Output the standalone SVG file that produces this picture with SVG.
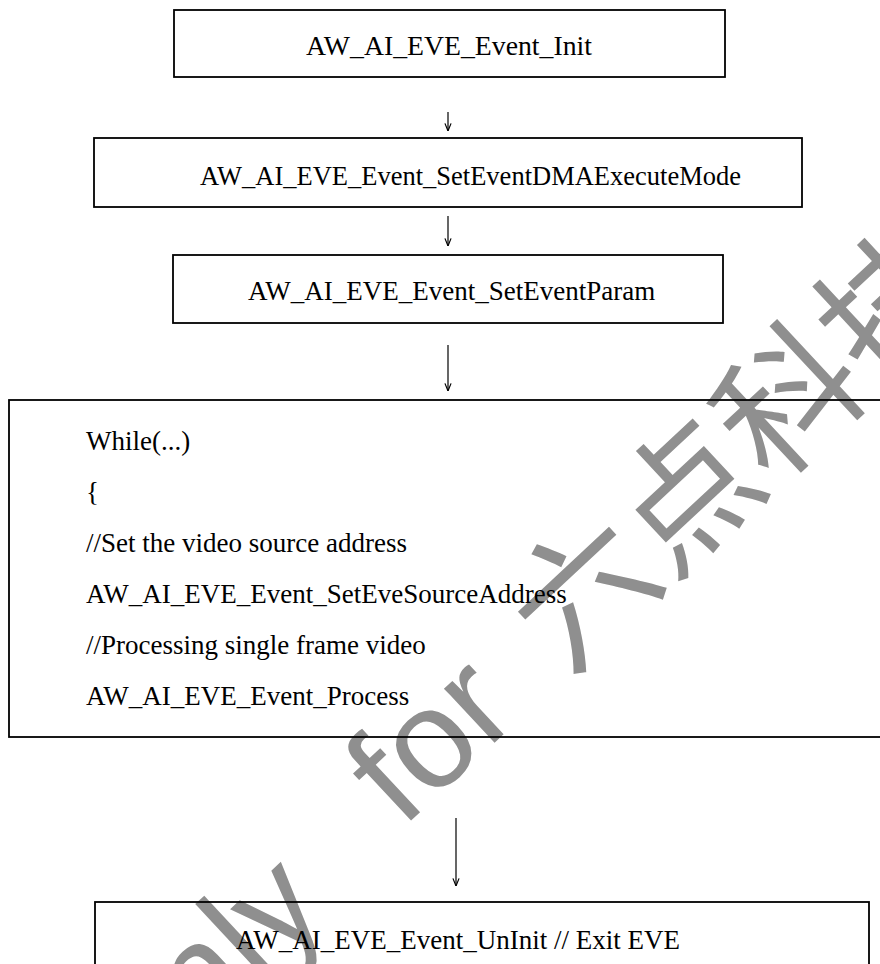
<svg xmlns="http://www.w3.org/2000/svg" width="880" height="964" viewBox="0 0 880 964">
<style>
.box{fill:none;stroke:#000;stroke-width:1.8}
.t{font-family:"Liberation Serif","Times New Roman",serif;font-size:27px;fill:#000}
.wm{font-family:"Liberation Sans",Arial,sans-serif;font-size:140px;fill:#8f8f8f}
.cjk{font-family:"Noto Sans CJK SC","Liberation Sans",sans-serif;font-size:140px;fill:#8f8f8f}
.arr{stroke:#000;stroke-width:1.2;fill:none;marker-end:url(#ah)}
</style>
<defs>
<marker id="ah" viewBox="0 0 10 10" refX="9.5" refY="5" markerWidth="9" markerHeight="9" markerUnits="userSpaceOnUse" orient="auto">
<path d="M1,1.6 L9.5,5 L1,8.4" fill="none" stroke="#000" stroke-width="1.3"/>
</marker>
</defs>
<rect width="880" height="964" fill="#fff"/>
<g id="watermark">
<text class="wm" transform="translate(121,1112) rotate(-43)">Only</text>
<text class="wm" transform="translate(402,829) rotate(-43)">for</text>
<text class="cjk" transform="translate(567,676) rotate(-43)">六点科技</text>
</g>
<g id="connectors">
<line class="arr" x1="448" y1="112" x2="448" y2="131"/>
<line class="arr" x1="448" y1="216" x2="448" y2="246"/>
<line class="arr" x1="448" y1="345" x2="448" y2="391"/>
<line class="arr" x1="456" y1="818" x2="456" y2="886"/>
</g>
<g id="n1">
<rect class="box" x="174" y="10" width="551" height="67"/>
<text class="t" x="306" y="55" textLength="286" lengthAdjust="spacingAndGlyphs">AW_AI_EVE_Event_Init</text>
</g>
<g id="n2">
<rect class="box" x="94" y="138" width="708" height="69"/>
<text class="t" x="200" y="185" textLength="541" lengthAdjust="spacingAndGlyphs">AW_AI_EVE_Event_SetEventDMAExecuteMode</text>
</g>
<g id="n3">
<rect class="box" x="173" y="255" width="550" height="68"/>
<text class="t" x="248" y="300">AW_AI_EVE_Event_SetEventParam</text>
</g>
<g id="n4">
<rect class="box" x="9" y="400" width="880" height="337"/>
<text class="t" x="86" y="450">While(...)</text>
<text class="t" x="86" y="501">{</text>
<text class="t" x="86" y="552">//Set the video source address</text>
<text class="t" x="86" y="603">AW_AI_EVE_Event_SetEveSourceAddress</text>
<text class="t" x="86" y="654">//Processing single frame video</text>
<text class="t" x="86" y="705">AW_AI_EVE_Event_Process</text>
</g>
<g id="n5">
<rect class="box" x="95" y="902" width="774" height="80"/>
<text class="t" x="236" y="949">AW_AI_EVE_Event_UnInit // Exit EVE</text>
</g>
</svg>
